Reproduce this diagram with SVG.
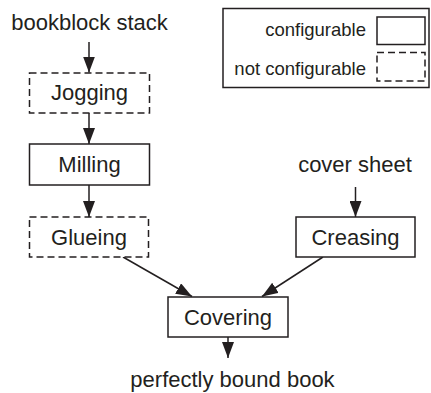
<svg xmlns="http://www.w3.org/2000/svg" width="431" height="393" viewBox="0 0 431 393">
<defs>
<marker id="ah" markerUnits="userSpaceOnUse" markerWidth="16" markerHeight="12" refX="16" refY="6" orient="auto">
<path d="M0,0 L16,6 L0,12 z" fill="#231f20"/>
</marker>
<style>
text{font-family:"Liberation Sans",Arial,Helvetica,sans-serif;fill:#231f20;font-size:22px;text-anchor:middle}
.lg{font-size:18.5px;text-anchor:end}
.box{fill:#fff;stroke:#231f20;stroke-width:1.5}
.dash{stroke-dasharray:7 4}
.edge{stroke:#231f20;stroke-width:1.5;fill:none;marker-end:url(#ah)}
</style>
</defs>
<rect width="431" height="393" fill="#fff"/>
<g id="legend">
<rect x="223" y="8.5" width="206" height="79" class="box"/>
<text class="lg" x="366" y="36">configurable</text>
<rect x="377" y="17" width="48" height="27.5" class="box"/>
<text class="lg" x="366" y="74.5">not configurable</text>
<rect x="377" y="52.5" width="48" height="28.5" class="box dash"/>
</g>
<g id="connectors">
<line x1="89" y1="42" x2="89" y2="72.5" class="edge"/>
<line x1="89" y1="113" x2="89" y2="144" class="edge"/>
<line x1="89" y1="185" x2="89" y2="217" class="edge"/>
<line x1="355.5" y1="187" x2="355.5" y2="217" class="edge"/>
<line x1="123" y1="257" x2="192" y2="296.5" class="edge"/>
<line x1="323" y1="257" x2="262" y2="296.5" class="edge"/>
<line x1="228" y1="337" x2="228" y2="358" class="edge"/>
</g>
<g id="bookblock-stack"><text x="89.5" y="30">bookblock stack</text></g>
<g id="jogging">
<rect x="29.5" y="73" width="120" height="40" class="box dash"/>
<text x="89.5" y="100">Jogging</text>
</g>
<g id="milling">
<rect x="29.5" y="144" width="120" height="41" class="box"/>
<text x="89.5" y="172">Milling</text>
</g>
<g id="glueing">
<rect x="29.5" y="217" width="119" height="40" class="box dash"/>
<text x="89" y="244.5">Glueing</text>
</g>
<g id="cover-sheet"><text x="355" y="172">cover sheet</text></g>
<g id="creasing">
<rect x="296" y="217" width="119" height="40" class="box"/>
<text x="355.5" y="244.5">Creasing</text>
</g>
<g id="covering">
<rect x="168" y="297" width="120" height="40" class="box"/>
<text x="228" y="324.5">Covering</text>
</g>
<g id="perfectly-bound-book"><text x="232.5" y="386.5">perfectly bound book</text></g>
</svg>
